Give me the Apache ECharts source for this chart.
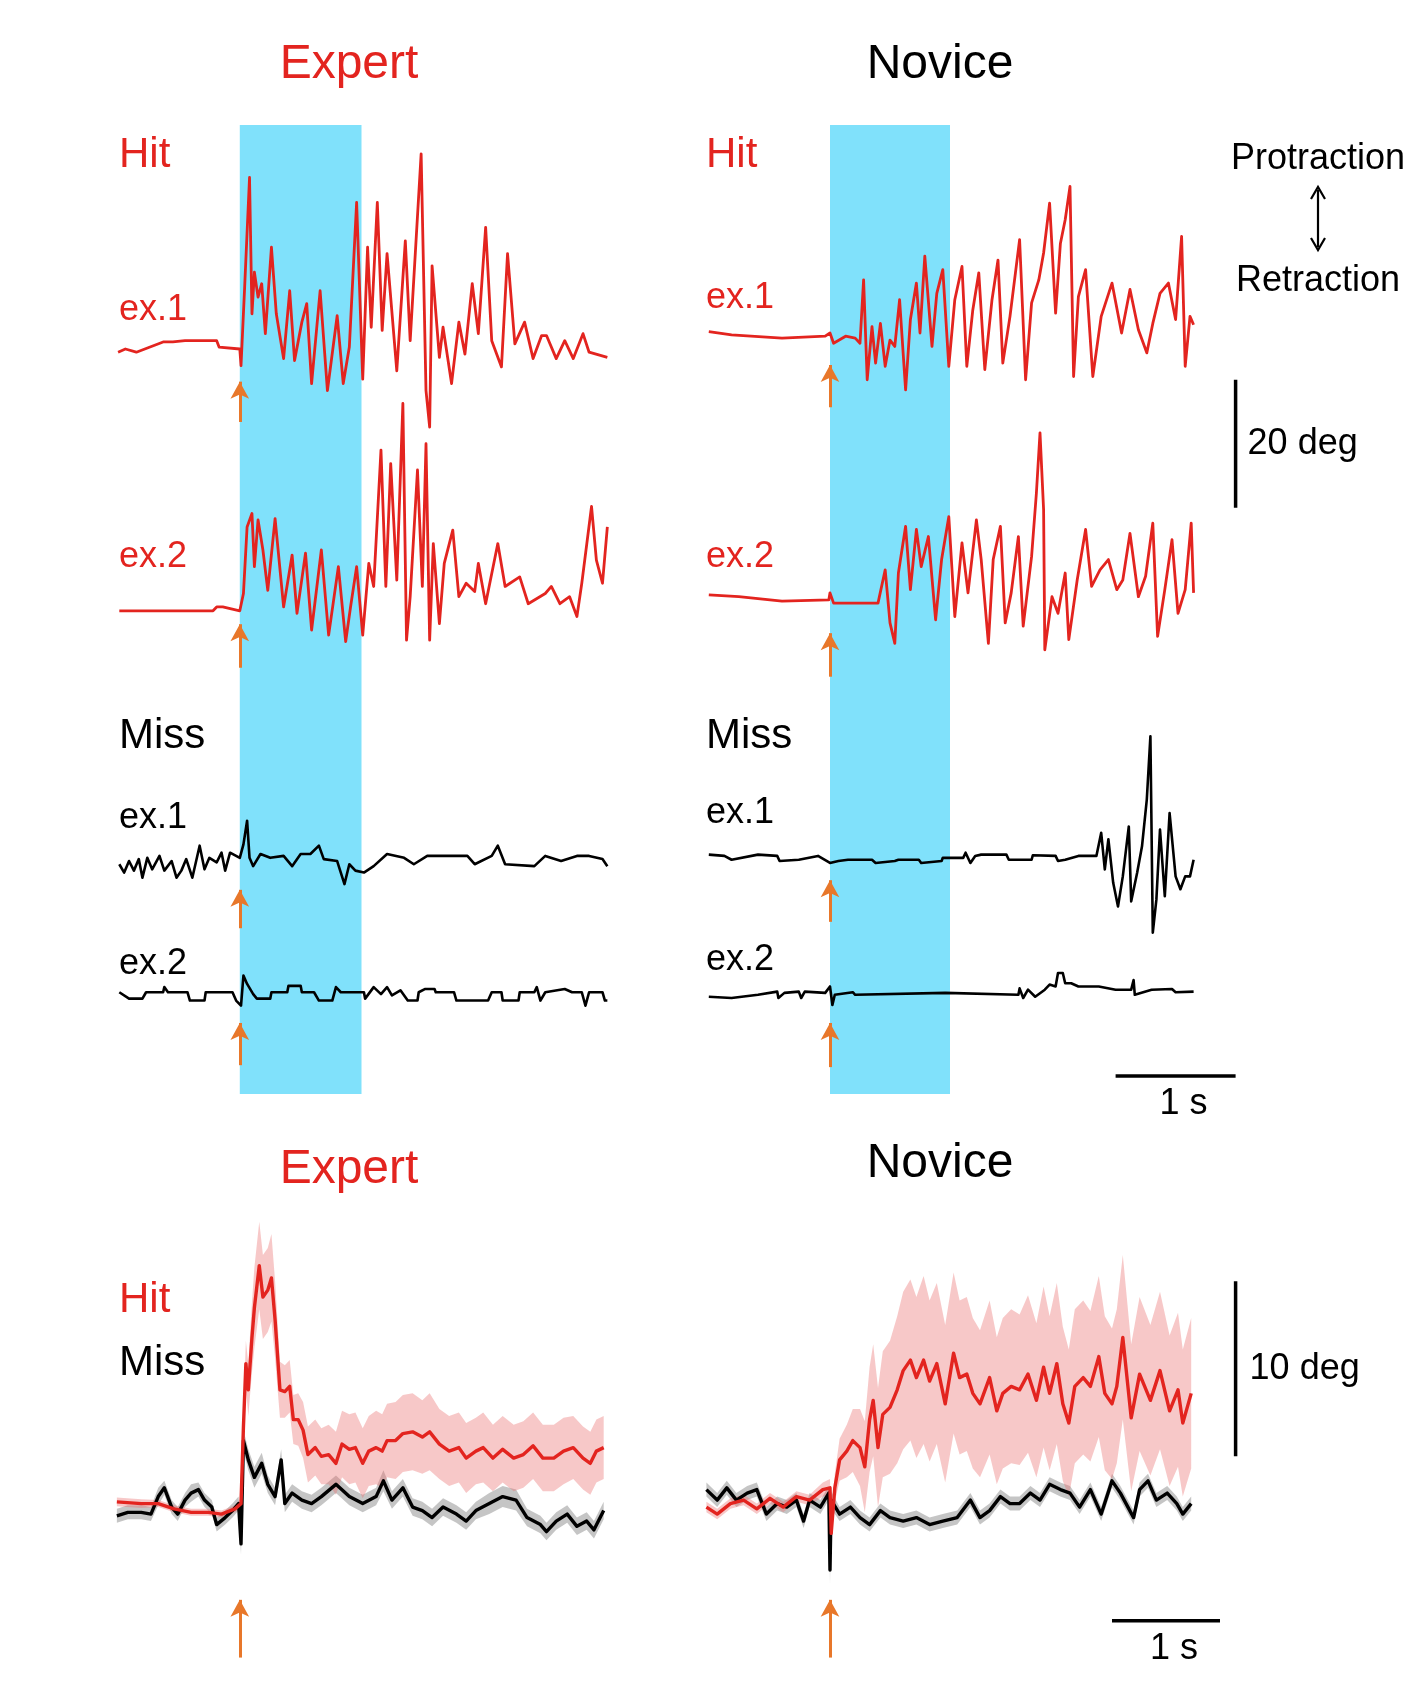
<!DOCTYPE html>
<html>
<head>
<meta charset="utf-8">
<script src="https://cdn.jsdelivr.net/npm/echarts@6/dist/echarts.min.js"></script>
<style>
  html, body { margin: 0; padding: 0; background: #fff; }
  #chart { width: 1412px; height: 1690px; }
</style>
</head>
<body>
<div id="chart"></div>
<script>
// whisker angle traces, [time (s from stimulus), angle (deg)]
var expertHit1 = [[-1.0,0],[-0.94,0.5],[-0.85,0],[-0.63,1.6],[-0.55,1.6],[-0.45,1.8],[-0.19,1.8],[-0.17,0.8],[0,0.5],[0.01,-2.1],[0.04,10.2],[0.08,27.3],[0.10,6.0],[0.12,12.5],[0.15,8.6],[0.18,10.7],[0.21,2.9],[0.26,16.4],[0.30,6.0],[0.36,-1.0],[0.41,9.6],[0.45,-1.3],[0.51,4.7],[0.55,7.6],[0.59,-4.9],[0.66,9.6],[0.72,-6.0],[0.80,5.7],[0.85,-4.9],[0.90,0.8],[0.96,23.4],[1.01,-4.2],[1.05,16.4],[1.08,3.9],[1.13,23.4],[1.17,3.4],[1.21,15.4],[1.29,-2.9],[1.36,17.4],[1.40,1.8],[1.49,31],[1.53,-6.0],[1.56,-11.7],[1.58,13.5],[1.64,-0.8],[1.67,3.9],[1.74,-4.9],[1.80,4.7],[1.85,-0.3],[1.91,10.7],[1.96,2.9],[2.02,19.5],[2.07,1.8],[2.15,-2.3],[2.20,15.4],[2.26,1.3],[2.34,4.7],[2.41,-1.0],[2.48,2.6],[2.52,2.6],[2.60,-1.0],[2.67,1.8],[2.74,-1.0],[2.82,2.9],[2.87,0],[3.02,-0.8]];
var expertHit2 = [[-0.99,0],[-0.22,0],[-0.19,0.6],[-0.14,0.6],[0,0],[0.03,2.7],[0.06,13.1],[0.10,15.2],[0.12,6.9],[0.15,14.2],[0.19,9.5],[0.23,3.2],[0.29,14.4],[0.36,0.6],[0.43,8.7],[0.47,-0.4],[0.54,9.0],[0.59,-3.0],[0.67,9.5],[0.73,-3.8],[0.81,6.9],[0.87,-4.8],[0.91,0.6],[0.96,6.9],[1.01,-3.8],[1.06,7.4],[1.10,3.8],[1.16,25.1],[1.20,3.8],[1.24,23.0],[1.29,4.8],[1.34,32.4],[1.37,-4.6],[1.40,2.2],[1.46,22.0],[1.50,3.8],[1.53,26.1],[1.56,-4.6],[1.59,10.5],[1.64,-2.0],[1.68,7.4],[1.75,12.6],[1.80,2.2],[1.86,4.3],[1.93,3.0],[1.96,7.4],[2.02,1.1],[2.12,10.5],[2.18,3.8],[2.30,5.3],[2.37,1.1],[2.51,2.7],[2.56,3.8],[2.63,1.1],[2.71,2.2],[2.77,-0.9],[2.81,4.3],[2.89,16.3],[2.93,7.9],[2.98,4.3],[3.02,13.1]];
var expertMiss1 = [[-0.99,0],[-0.95,-1.3],[-0.91,0.5],[-0.87,-1.0],[-0.83,0.8],[-0.80,-2.1],[-0.76,1.0],[-0.72,-0.8],[-0.66,1.3],[-0.62,-1.0],[-0.56,0.5],[-0.52,-2.1],[-0.48,-1.0],[-0.44,0.8],[-0.39,-2.1],[-0.33,2.9],[-0.29,-0.8],[-0.25,1.0],[-0.19,0.3],[-0.15,1.8],[-0.12,-1.0],[-0.08,1.8],[0,1.0],[0.03,3.1],[0.06,6.8],[0.08,1.0],[0.11,-0.3],[0.17,1.6],[0.25,1.0],[0.36,1.3],[0.43,-0.3],[0.50,1.6],[0.58,1.6],[0.65,2.9],[0.69,0.8],[0.80,0.5],[0.86,-3.1],[0.90,0],[0.95,-1.0],[1.02,-1.3],[1.10,-0.3],[1.21,1.6],[1.35,1.0],[1.43,0],[1.54,1.3],[1.68,1.3],[1.87,1.3],[1.93,0],[2.07,1.3],[2.12,2.9],[2.18,0],[2.42,-0.3],[2.51,1.3],[2.64,0.5],[2.77,1.3],[2.87,1.3],[2.98,0.8],[3.02,-0.3]];
var expertMiss2 = [[-0.99,0],[-0.91,-1.0],[-0.80,-1.0],[-0.77,0],[-0.63,0],[-0.62,0.8],[-0.59,0],[-0.43,0],[-0.41,-1.3],[-0.29,-1.3],[-0.28,0],[-0.06,0],[-0.03,-1.3],[0.01,-2.1],[0.03,2.6],[0.06,1.3],[0.11,-0.3],[0.14,-1.0],[0.25,-1.0],[0.26,0],[0.39,0],[0.40,1.0],[0.50,1.0],[0.51,0],[0.61,0],[0.65,-1.3],[0.76,-1.3],[0.79,0.8],[0.83,0],[1.02,0],[1.03,-1.0],[1.10,0.8],[1.16,-0.3],[1.21,0.8],[1.25,-0.5],[1.32,0.3],[1.38,-1.3],[1.46,-1.3],[1.47,0],[1.52,0.5],[1.60,0.5],[1.61,0],[1.76,0],[1.78,-1.3],[2.04,-1.3],[2.07,0],[2.15,0],[2.16,-1.3],[2.29,-1.3],[2.30,0],[2.42,0],[2.44,0.8],[2.47,-1.3],[2.51,0],[2.67,0.5],[2.73,0],[2.81,0],[2.84,-2.1],[2.87,0],[2.98,0],[3.00,-1.3],[3.02,-1.3]];

var noviceHit1 = [[-1.01,1.0],[-0.82,0.5],[-0.40,0],[-0.04,0.3],[0,0.8],[0.03,-0.8],[0.13,0.3],[0.21,0],[0.25,-0.8],[0.28,9.1],[0.31,-6.5],[0.35,1.8],[0.38,-3.9],[0.42,2.3],[0.46,-4.4],[0.50,-0.3],[0.54,-1.3],[0.58,6.0],[0.63,-8.1],[0.67,2.9],[0.72,8.6],[0.75,0.8],[0.79,12.8],[0.85,-1.3],[0.89,7.0],[0.94,10.7],[0.99,-4.4],[1.04,6.0],[1.10,11.2],[1.14,-4.4],[1.19,4.4],[1.24,10.2],[1.29,-4.9],[1.35,6.0],[1.40,12.2],[1.44,-3.9],[1.50,3.4],[1.58,15.4],[1.63,-6.5],[1.68,5.5],[1.74,9.1],[1.78,13.3],[1.83,21.1],[1.88,3.9],[1.92,14.8],[1.96,18.5],[2.00,23.7],[2.03,-6.0],[2.07,6.5],[2.13,10.7],[2.19,-6.0],[2.26,3.4],[2.35,8.6],[2.43,0.8],[2.50,7.6],[2.57,1.3],[2.64,-2.3],[2.69,2.3],[2.75,7.0],[2.82,8.6],[2.88,2.9],[2.93,15.9],[2.96,-4.4],[3.00,3.4],[3.03,2.1]];
var noviceHit2 = [[-1.01,1.3],[-0.76,1.0],[-0.40,0.3],[-0.01,0.5],[0,1.6],[0.03,0],[0.40,0],[0.46,5.2],[0.50,-3.1],[0.54,-6.3],[0.57,4.7],[0.63,12.0],[0.67,2.1],[0.72,11.5],[0.76,5.7],[0.82,10.4],[0.88,-2.6],[0.93,6.8],[0.99,13.5],[1.04,-2.1],[1.10,9.4],[1.15,1.6],[1.22,13.0],[1.26,6.8],[1.32,-6.3],[1.36,6.8],[1.42,12.0],[1.46,-3.1],[1.51,1.6],[1.57,10.4],[1.61,-3.6],[1.68,7.3],[1.72,17.2],[1.75,26.6],[1.78,14.6],[1.79,-7.3],[1.85,1.0],[1.90,-1.6],[1.96,4.7],[1.99,-5.7],[2.06,3.6],[2.13,11.5],[2.18,2.6],[2.25,5.2],[2.32,6.8],[2.39,2.1],[2.44,3.6],[2.50,10.9],[2.57,1.0],[2.63,4.2],[2.69,12.5],[2.73,-5.2],[2.79,2.1],[2.85,9.9],[2.90,-1.6],[2.96,2.1],[3.01,12.5],[3.03,1.6]];
var noviceMiss1 = [[-1.01,0.5],[-0.88,0.3],[-0.82,-0.3],[-0.60,0.5],[-0.44,0.3],[-0.42,-0.5],[-0.26,-0.3],[-0.10,0.3],[0,-0.8],[0.07,-0.5],[0.15,-0.3],[0.35,-0.3],[0.38,-0.8],[0.54,-0.5],[0.57,-0.3],[0.74,-0.3],[0.76,-0.8],[0.93,-0.5],[0.94,0],[1.11,0],[1.13,0.8],[1.17,-0.8],[1.21,0.3],[1.26,0.5],[1.47,0.5],[1.49,-0.3],[1.68,-0.3],[1.69,0.4],[1.88,0.3],[1.90,-0.5],[1.96,-0.3],[2.07,0.3],[2.22,0.3],[2.26,3.9],[2.29,-1.8],[2.32,2.9],[2.36,-3.9],[2.40,-7.6],[2.44,-2.9],[2.49,4.9],[2.51,-6.8],[2.56,-2.3],[2.60,1.8],[2.64,9.1],[2.67,19.0],[2.69,-11.7],[2.72,-6.5],[2.75,4.4],[2.79,-6.0],[2.83,7.0],[2.88,-2.9],[2.92,-4.9],[2.96,-2.9],[3.00,-2.9],[3.03,-0.3]];
var noviceMiss2 = [[-1.01,-0.3],[-0.82,-0.5],[-0.60,0],[-0.44,0.5],[-0.43,-0.5],[-0.38,0.3],[-0.26,0.5],[-0.24,-0.5],[-0.21,0.5],[-0.04,0.3],[0,1.3],[0.02,-1.6],[0.04,0],[0.19,0.4],[0.21,0],[0.96,0.3],[0.97,0],[1.57,0],[1.58,1.0],[1.61,-0.5],[1.65,0.8],[1.71,-0.3],[1.79,0.8],[1.83,1.6],[1.88,1.3],[1.90,3.4],[1.94,3.4],[1.96,1.8],[2.01,1.8],[2.07,1.3],[2.24,1.3],[2.38,0.8],[2.51,0.8],[2.53,2.3],[2.54,0],[2.68,0.8],[2.85,0.9],[2.88,0.4],[3.03,0.5]];

// trial averages, [time (s), mean angle (deg), s.e.m. (deg)]
var expertHitMean = [[-1.01,0.3,0.25],[-0.81,0.2,0.25],[-0.67,0.2,0.2],[-0.54,-0.1,0.2],[-0.40,-0.3,0.2],[-0.26,-0.3,0.2],[-0.15,-0.4,0.2],[-0.04,-0.1,0.2],[0.01,0.2,0.3],[0.03,4.6,1.0],[0.05,8.2,1.3],[0.07,6.7,1.5],[0.10,9.7,2.0],[0.12,11.4,2.3],[0.16,13.8,2.5],[0.19,12.0,2.4],[0.23,12.4,2.4],[0.26,13.1,2.5],[0.29,10.7,2.2],[0.33,6.7,1.6],[0.37,6.6,1.5],[0.41,6.9,1.5],[0.44,5.0,1.4],[0.48,5.0,1.5],[0.52,4.4,1.6],[0.56,3.0,1.6],[0.62,3.4,1.6],[0.67,2.9,1.6],[0.73,3.0,1.7],[0.79,2.5,1.8],[0.84,3.6,1.9],[0.90,3.3,2.0],[0.95,3.4,2.0],[1.01,2.5,2.0],[1.06,3.2,2.0],[1.12,3.4,2.1],[1.17,3.2,2.1],[1.21,3.8,2.1],[1.28,3.8,2.2],[1.34,4.2,2.2],[1.42,4.3,2.2],[1.50,4.0,2.1],[1.56,4.3,2.2],[1.64,3.6,2.0],[1.72,3.2,2.0],[1.80,3.4,2.0],[1.86,2.8,2.0],[1.94,3.2,1.9],[2.00,3.4,2.0],[2.08,2.8,1.9],[2.16,3.3,1.9],[2.25,2.8,1.9],[2.33,3.0,1.9],[2.41,3.5,1.9],[2.49,2.8,1.9],[2.58,2.8,1.9],[2.66,3.2,1.9],[2.74,3.4,1.8],[2.82,2.8,1.8],[2.88,2.5,1.8],[2.93,3.2,1.8],[2.99,3.4,1.8]];
var expertMissMean = [[-1.01,-0.5,0.4],[-0.92,-0.3,0.4],[-0.81,-0.3,0.4],[-0.73,-0.4,0.4],[-0.67,0.6,0.5],[-0.62,1.1,0.4],[-0.56,0,0.4],[-0.51,-0.4,0.4],[-0.45,0.4,0.4],[-0.40,0.8,0.5],[-0.34,1.0,0.4],[-0.29,0.4,0.4],[-0.23,0,0.4],[-0.19,-1.0,0.4],[-0.12,-0.6,0.4],[-0.06,-0.2,0.4],[-0.01,0.2,0.4],[0.01,-2.1,0.6],[0.03,3.8,0.6],[0.07,2.7,0.6],[0.12,1.7,0.6],[0.18,2.5,0.6],[0.23,1.3,0.5],[0.29,0.6,0.5],[0.34,2.7,0.6],[0.37,0.2,0.5],[0.43,0.8,0.5],[0.51,0.4,0.5],[0.59,0.2,0.5],[0.67,0.6,0.5],[0.79,1.3,0.5],[0.90,0.6,0.5],[1.01,0.2,0.5],[1.12,0.6,0.5],[1.18,1.5,0.6],[1.25,0.4,0.5],[1.34,1.1,0.5],[1.42,0,0.5],[1.50,-0.2,0.5],[1.58,-0.6,0.5],[1.67,0,0.5],[1.78,-0.4,0.5],[1.86,-0.8,0.5],[1.94,-0.2,0.5],[2.05,0.2,0.6],[2.16,0.6,0.6],[2.27,0.4,0.6],[2.36,-0.6,0.5],[2.47,-1.0,0.5],[2.52,-1.4,0.5],[2.60,-0.8,0.5],[2.69,-0.4,0.5],[2.77,-1.1,0.5],[2.85,-0.8,0.5],[2.91,-1.3,0.5],[2.99,-0.2,0.5]];
var noviceHitMean = [[-1.03,0,0.3],[-0.94,-0.4,0.3],[-0.83,0.2,0.3],[-0.72,0.4,0.3],[-0.61,-0.1,0.3],[-0.50,0.5,0.3],[-0.39,0,0.3],[-0.28,0.6,0.3],[-0.17,0.4,0.3],[-0.06,1.0,0.4],[0,1.1,0.5],[0.01,-1.5,0.6],[0.04,1.1,0.8],[0.08,2.7,1.2],[0.14,3.2,1.5],[0.19,3.8,1.8],[0.25,3.4,2.2],[0.29,2.3,2.6],[0.33,5.0,3.0],[0.36,6.1,3.2],[0.40,3.4,3.4],[0.44,5.3,3.6],[0.50,5.7,3.8],[0.56,6.7,4.2],[0.61,7.8,4.5],[0.67,8.4,4.6],[0.72,7.4,4.6],[0.78,8.4,4.8],[0.83,7.2,4.6],[0.89,8.2,4.6],[0.96,5.9,4.5],[1.03,8.8,4.6],[1.08,7.4,4.4],[1.14,7.6,4.4],[1.19,6.5,4.3],[1.25,5.9,4.2],[1.33,7.4,4.4],[1.39,5.5,4.2],[1.44,6.5,4.3],[1.51,6.9,4.4],[1.58,6.7,4.3],[1.65,7.6,4.5],[1.72,6.1,4.4],[1.78,8.0,4.6],[1.83,6.5,4.4],[1.89,8.2,4.6],[1.94,5.9,4.4],[1.99,4.8,4.2],[2.04,6.9,4.4],[2.11,7.4,4.4],[2.17,6.9,4.3],[2.24,8.6,4.6],[2.29,6.5,4.4],[2.35,5.9,4.3],[2.39,6.9,4.4],[2.44,9.7,4.7],[2.51,5.1,4.2],[2.58,7.6,4.4],[2.67,6.1,4.3],[2.75,7.8,4.5],[2.83,5.5,4.3],[2.90,6.7,4.4],[2.94,4.8,4.2],[3.01,6.5,4.3]];
var noviceMissMean = [[-1.03,1.0,0.4],[-0.94,0.4,0.4],[-0.86,1.1,0.4],[-0.78,0.4,0.4],[-0.69,0.8,0.4],[-0.61,1.0,0.4],[-0.53,-0.4,0.4],[-0.44,0.2,0.4],[-0.36,0,0.4],[-0.28,0.4,0.4],[-0.22,-0.8,0.4],[-0.17,0.4,0.4],[-0.08,0,0.4],[-0.01,0.8,0.4],[0,-3.6,0.8],[0.01,0.4,0.5],[0.08,-0.4,0.4],[0.17,0,0.4],[0.25,-0.6,0.4],[0.33,-1.0,0.4],[0.42,-0.2,0.4],[0.50,-0.6,0.4],[0.61,-0.8,0.4],[0.72,-0.6,0.4],[0.83,-1.0,0.4],[0.94,-0.8,0.4],[1.06,-0.6,0.4],[1.17,0.4,0.4],[1.25,-0.6,0.4],[1.33,-0.2,0.4],[1.42,0.6,0.4],[1.50,0.2,0.4],[1.58,0.2,0.4],[1.67,0.8,0.4],[1.75,0.4,0.4],[1.83,1.3,0.4],[1.92,1.0,0.4],[2.00,0.8,0.4],[2.08,0,0.4],[2.17,1.0,0.4],[2.26,-0.4,0.4],[2.35,1.5,0.4],[2.42,0.8,0.4],[2.53,-0.6,0.4],[2.58,1.0,0.4],[2.65,1.5,0.4],[2.72,0.4,0.4],[2.81,0.8,0.4],[2.89,0.2,0.4],[2.94,-0.4,0.4],[3.01,0.2,0.4]];

var stimWindow = [0, 1];   // blue stimulus period (s)

// layout: vertical offsets (deg) of each example trace inside the top panels
var expertRows = [115.9, 75.5, 35.9, 15.9];
var noviceRows = [118.1, 76.7, 36.9, 15.5];

var RED = '#E3241F', ORANGE = '#E8772A', BLUE = '#80E1FB';
var FONT = 'Liberation Sans, Arial, sans-serif';

var chart = echarts.init(document.getElementById('chart'));

function axes(i, ymin, ymax) {
  return {
    x: { type: 'value', gridIndex: i, min: -1.05, max: 3.05, show: false },
    y: { type: 'value', gridIndex: i, min: ymin, max: ymax, show: false }
  };
}

var a = [axes(0, 0, 151.4), axes(1, 0, 151.4), axes(2, -9.31, 17.55), axes(3, -9.31, 17.55)];

function trace(pts, off, idx, color, w) {
  return {
    type: 'line', xAxisIndex: idx, yAxisIndex: idx, showSymbol: false, silent: true,
    data: pts.map(function (p) { return [p[0], p[1] + off]; }),
    lineStyle: { color: color, width: w, join: 'round' }, z: 5
  };
}

function band(pts, idx, color) {
  return {
    type: 'custom', xAxisIndex: idx, yAxisIndex: idx, silent: true, z: 3,
    data: [[0, 0]],
    renderItem: function (params, api) {
      var up = pts.map(function (p) { return api.coord([p[0], p[1] + p[2]]); });
      var lo = pts.slice().reverse().map(function (p) { return api.coord([p[0], p[1] - p[2]]); });
      return { type: 'polygon', shape: { points: up.concat(lo) }, style: { fill: color } };
    }
  };
}

function arrows(idx, pairs, withStim) {
  var s = {
    type: 'line', xAxisIndex: idx, yAxisIndex: idx, data: [], silent: true, z: 2,
    markLine: {
      silent: true, symbol: ['arrow', 'none'], symbolSize: [14, 17],
      lineStyle: { color: ORANGE, width: 3, type: 'solid' }, label: { show: false },
      data: pairs.map(function (p) { return [{ coord: [0, p[0]] }, { coord: [0, p[1]] }]; })
    }
  };
  if (withStim) {
    s.markArea = { silent: true, itemStyle: { color: BLUE, opacity: 1 },
      data: [[{ xAxis: stimWindow[0] }, { xAxis: stimWindow[1] }]] };
  }
  return s;
}

var series = [
  arrows(0, [[111.3, 105], [73.4, 66.6], [31.9, 25.9], [11.1, 4.5]], true),
  trace(expertHit1, expertRows[0], 0, RED, 2.8),
  trace(expertHit2, expertRows[1], 0, RED, 2.8),
  trace(expertMiss1, expertRows[2], 0, '#000', 2.6),
  trace(expertMiss2, expertRows[3], 0, '#000', 2.6),
  arrows(1, [[113.9, 107.3], [72.0, 65.2], [33.4, 26.9], [11.1, 4.2]], true),
  trace(noviceHit1, noviceRows[0], 1, RED, 2.8),
  trace(noviceHit2, noviceRows[1], 1, RED, 2.8),
  trace(noviceMiss1, noviceRows[2], 1, '#000', 2.6),
  trace(noviceMiss2, noviceRows[3], 1, '#000', 2.6),
  arrows(2, [[-5.3, -8.6]], false),
  band(expertMissMean, 2, 'rgba(150,150,150,0.55)'),
  band(expertHitMean, 2, 'rgba(235,110,110,0.38)'),
  trace(expertMissMean, 0, 2, '#000', 3.4),
  trace(expertHitMean, 0, 2, RED, 3.4),
  arrows(3, [[-5.3, -8.6]], false),
  band(noviceMissMean, 3, 'rgba(150,150,150,0.55)'),
  band(noviceHitMean, 3, 'rgba(235,110,110,0.38)'),
  trace(noviceMissMean, 0, 3, '#000', 3.4),
  trace(noviceHitMean, 0, 3, RED, 3.4)
];

function txt(x, y, s, size, color, align) {
  return { type: 'text', x: x, y: y, silent: true,
    style: { text: s, fontSize: size, fill: color || '#000', fontFamily: FONT,
      textAlign: align || 'left', textVerticalAlign: 'middle' } };
}

var labels = [
  txt(349, 65, 'Expert', 48, RED, 'center'), txt(940, 65, 'Novice', 48, '#000', 'center'),
  txt(119, 155, 'Hit', 42, RED), txt(119, 310, 'ex.1', 36, RED), txt(119, 557, 'ex.2', 36, RED),
  txt(119, 736, 'Miss', 42), txt(119, 818, 'ex.1', 36), txt(119, 964, 'ex.2', 36),
  txt(706, 155, 'Hit', 42, RED), txt(706, 298, 'ex.1', 36, RED), txt(706, 557, 'ex.2', 36, RED),
  txt(706, 736, 'Miss', 42), txt(706, 813, 'ex.1', 36), txt(706, 960, 'ex.2', 36),
  txt(1318, 159, 'Protraction', 36, '#000', 'center'), txt(1318, 281, 'Retraction', 36, '#000', 'center'),
  txt(349, 1170, 'Expert', 48, RED, 'center'), txt(940, 1164, 'Novice', 48, '#000', 'center'),
  txt(119, 1300, 'Hit', 42, RED), txt(119, 1363, 'Miss', 42)
];

chart.setOption({
  animation: false,
  backgroundColor: '#fff',
  grid: [
    { left: 112, top: 125, width: 499, height: 969 },
    { left: 704, top: 125, width: 492, height: 969 },
    { left: 112, top: 1200, width: 499, height: 470 },
    { left: 704, top: 1200, width: 492, height: 470 }
  ],
  xAxis: a.map(function (d) { return d.x; }),
  yAxis: a.map(function (d) { return d.y; }),
  series: series
});

// scale bars, sized through the novice axes
function px(g, v) { return chart.convertToPixel({ gridIndex: g }, v); }
function bar(p, q) {
  return { type: 'line', silent: true, shape: { x1: p[0], y1: p[1], x2: q[0], y2: q[1] },
    style: { stroke: '#000', lineWidth: 3.5 } };
}
var deg20a = px(1, [3.38, 91.6]), deg20b = px(1, [3.38, 111.6]);
var s1a = px(1, [2.38, 2.8]), s1b = px(1, [3.38, 2.8]);
var deg10a = px(3, [3.38, 2.9]), deg10b = px(3, [3.38, 12.9]);
var s2a = px(3, [2.35, -6.5]), s2b = px(3, [3.25, -6.5]);

var extras = [
  bar(deg20a, deg20b), txt(deg20a[0] + 12, (deg20a[1] + deg20b[1]) / 2, '20 deg', 36),
  bar(s1a, s1b), txt((s1a[0] + s1b[0]) / 2 + 8, s1a[1] + 28, '1 s', 36, '#000', 'center'),
  bar(deg10a, deg10b), txt(deg10a[0] + 14, (deg10a[1] + deg10b[1]) / 2, '10 deg', 36),
  bar(s2a, s2b), txt((s2a[0] + s2b[0]) / 2 + 8, s2a[1] + 28, '1 s', 36, '#000', 'center'),
  { type: 'line', silent: true, shape: { x1: 1318, y1: 190, x2: 1318, y2: 247 },
    style: { stroke: '#000', lineWidth: 2.2 } },
  { type: 'polyline', silent: true, shape: { points: [[1311, 199], [1318, 187], [1325, 199]] },
    style: { stroke: '#000', lineWidth: 2.2, fill: null } },
  { type: 'polyline', silent: true, shape: { points: [[1311, 238], [1318, 250], [1325, 238]] },
    style: { stroke: '#000', lineWidth: 2.2, fill: null } }
];

chart.setOption({ graphic: labels.concat(extras) });
</script>
</body>
</html>
